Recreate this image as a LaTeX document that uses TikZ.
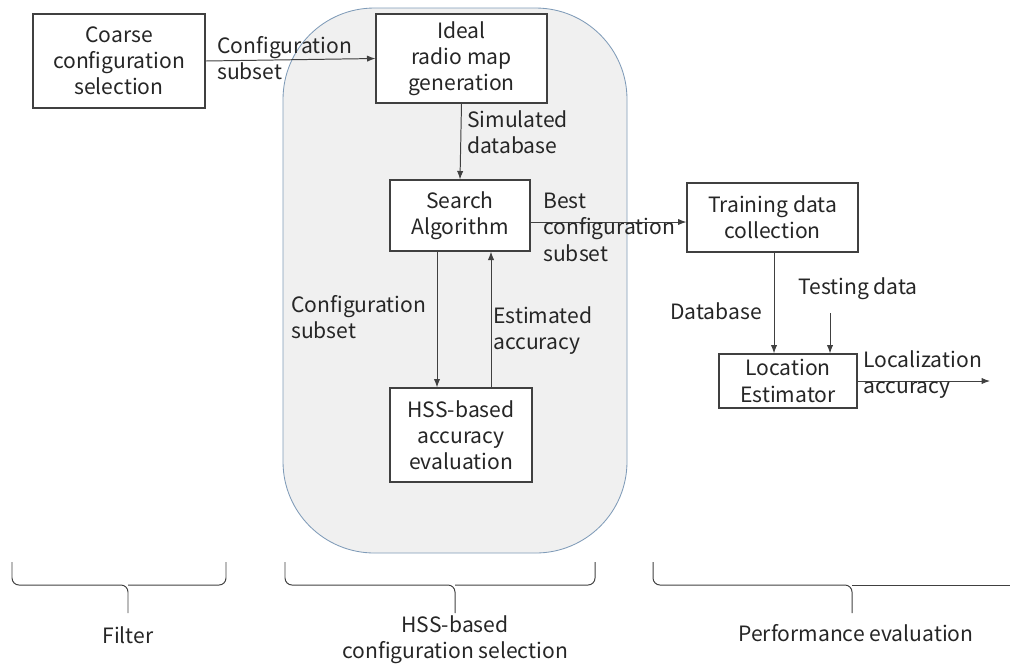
\documentclass[tikz,border=0pt]{standalone}
\usepackage{fontspec}
\setmainfont{Noto Sans CJK JP}
\usetikzlibrary{arrows.meta}
\definecolor{regionfill}{HTML}{F0F0F0}
\definecolor{regionline}{HTML}{7F9BB8}
\definecolor{boxline}{HTML}{404040}
\definecolor{inktext}{HTML}{262626}
\tikzset{
  block/.style={draw=boxline,fill=white,line width=0.8pt,align=center,inner sep=0pt,text=inktext},
  flow/.style={-{Latex[length=6pt,width=4.5pt]},draw=boxline,line width=0.7pt},
  lbl/.style={align=left,anchor=north west,inner sep=0pt,text=inktext},
  bracket/.style={draw=boxline,line width=0.7pt,rounded corners=5}
}
\begin{document}
\begin{tikzpicture}[x=0.025cm,y=-0.025cm,font=\fontsize{15}{18.6}\selectfont]
\useasboundingbox (0,0) rectangle (1010,667);
% HSS region
\draw[fill=regionfill,draw=regionline,line width=0.6pt,rounded corners=65] (283,8) rectangle (627,553);
% boxes
\node[block,minimum width=172*0.025cm,minimum height=94*0.025cm] (coarse) at (119,61) {Coarse\\configuration\\selection};
\node[block,minimum width=171*0.025cm,minimum height=89*0.025cm] (ideal) at (461.5,58.5) {Ideal\\radio map\\generation};
\node[block,minimum width=140*0.025cm,minimum height=71*0.025cm] (search) at (460,215.5) {Search\\Algorithm};
\node[block,minimum width=142*0.025cm,minimum height=94*0.025cm] (hss) at (461,435) {HSS-based\\accuracy\\evaluation};
\node[block,minimum width=171*0.025cm,minimum height=69*0.025cm] (train) at (772.5,217.5) {Training data\\collection};
\node[block,minimum width=138*0.025cm,minimum height=54*0.025cm] (loc) at (788,381) {Location\\Estimator};
% labels
\node[lbl] (cfglbl) at (217,36) {Configuration\\subset};
\node[lbl] (simlbl) at (467,110) {Simulated\\database};
\node[lbl] (bestlbl) at (543,193) {Best\\configuration\\subset};
\node[lbl] (sublbl) at (291,295) {Configuration\\subset};
\node[lbl] (estlbl) at (493,306) {Estimated\\accuracy};
\node[text=inktext] (dblbl) at (716,311) {Database};
\node[text=inktext] (testlbl) at (858,289) {Testing data};
\node[lbl] (acclbl) at (863,350) {Localization\\accuracy};
% connectors
\coordinate (dn) at (437,0);
\coordinate (up) at (491,0);
\coordinate (bc) at (0,222);
\coordinate (db) at (774,0);
\coordinate (tst) at (830,313);
\coordinate (out) at (990,381);
\draw[flow] (coarse.east) -- (ideal.west);
\draw[flow] (ideal.south) -- (search.north);
\draw[flow] (search.south -| dn) -- (hss.north -| dn);
\draw[flow] (hss.north -| up) -- (search.south -| up);
\draw[flow] (search.east |- bc) -- (train.west |- bc);
\draw[flow] (train.south -| db) -- (loc.north -| db);
\draw[flow] (tst) -- (loc.north -| tst);
\draw[flow] (loc.east) -- (out);
% braces
\draw[bracket] (12,562) -- (12,585) -- (128,585) -- (128,613);
\draw[bracket] (226,562) -- (226,585) -- (128,585);
\draw[bracket] (285,562) -- (285,585) -- (455,585) -- (455,613);
\draw[bracket] (595,562) -- (595,585) -- (455,585);
\draw[bracket] (653,562) -- (653,585) -- (852,585) -- (852,613);
\draw[bracket] (1010,585) -- (852,585);
\node[text=inktext] (filterlbl) at (128,635) {Filter};
\node[text=inktext,align=center] (hsslbl) at (455,640) {HSS-based\\configuration selection};
\node[text=inktext] (perflbl) at (856,633) {Performance evaluation};
\end{tikzpicture}
\end{document}
